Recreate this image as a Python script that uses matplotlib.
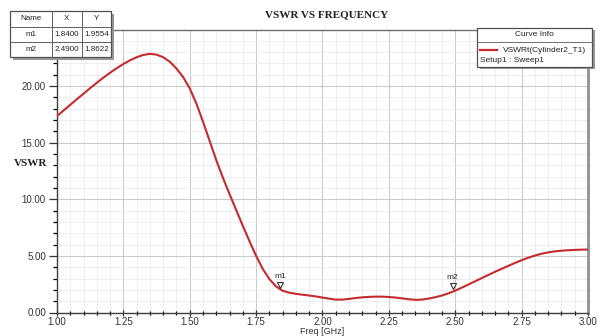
import matplotlib
matplotlib.use("Agg")
import matplotlib.pyplot as plt
from matplotlib.patches import Rectangle
from matplotlib.lines import Line2D
import numpy as np

# ---------------- data ----------------
freq_ghz = [1.000, 1.025, 1.050, 1.075, 1.100, 1.125, 1.150, 1.175, 1.200, 1.225,
            1.250, 1.275, 1.300, 1.325, 1.350, 1.375, 1.400, 1.425, 1.450, 1.475,
            1.500, 1.525, 1.550, 1.575, 1.600, 1.625, 1.650, 1.675, 1.700, 1.725,
            1.750, 1.775, 1.800, 1.825, 1.850, 1.875, 1.900, 1.925, 1.950, 1.975,
            2.000, 2.025, 2.050, 2.075, 2.100, 2.125, 2.150, 2.175, 2.200, 2.225,
            2.250, 2.275, 2.300, 2.325, 2.350, 2.375, 2.400, 2.425, 2.450, 2.475,
            2.500, 2.525, 2.550, 2.575, 2.600, 2.625, 2.650, 2.675, 2.700, 2.725,
            2.750, 2.775, 2.800, 2.825, 2.850, 2.875, 2.900, 2.925, 2.950, 2.975,
            3.000]
vswr = [17.35, 17.85, 18.35, 18.85, 19.33, 19.82, 20.3, 20.75, 21.18, 21.58,
        21.95, 22.28, 22.55, 22.75, 22.85, 22.78, 22.55, 22.15, 21.55, 20.8,
        19.8, 18.45, 16.85, 15.15, 13.45, 11.9, 10.45, 9.05, 7.65, 6.3,
        5.0, 3.85, 2.95, 2.3, 1.92, 1.75, 1.65, 1.57, 1.5, 1.42,
        1.32, 1.22, 1.14, 1.14, 1.2, 1.28, 1.34, 1.38, 1.4, 1.4,
        1.37, 1.32, 1.25, 1.17, 1.12, 1.14, 1.23, 1.35, 1.5, 1.7,
        1.93, 2.2, 2.48, 2.76, 3.04, 3.32, 3.6, 3.86, 4.12, 4.38,
        4.62, 4.84, 5.03, 5.19, 5.31, 5.4, 5.46, 5.5, 5.53, 5.55,
        5.56]
marker_names = ["m1", "m2"]
marker_x = [1.8400, 2.4900]
marker_y = [1.9554, 1.8622]
series_name = "VSWRt(Cylinder2_T1)"
setup_name = "Setup1 : Sweep1"
x_ticks = [1.00, 1.25, 1.50, 1.75, 2.00, 2.25, 2.50, 2.75, 3.00]
y_ticks = [0.00, 5.00, 10.00, 15.00, 20.00]

W, H = 597, 336
fig = plt.figure(figsize=(W / 100, H / 100), dpi=100)
fig.patch.set_facecolor("white")

def fx(px):
    return px / W

def fy(py):
    return 1 - py / H

ax_l, ax_r, ax_t, ax_b = 57, 588, 29.5, 312.5
ax = fig.add_axes([fx(ax_l), fy(ax_b), (ax_r - ax_l) / W, (ax_b - ax_t) / H])
ax.set_xlim(1.0, 3.0)
ax.set_ylim(0, 25)

ax.set_xticks(x_ticks)
ax.set_xticklabels([f"{v:.2f}" for v in x_ticks])
ax.set_xticks(np.arange(1.0, 3.0001, 0.05), minor=True)
ax.set_yticks(y_ticks)
ax.set_yticklabels([f"{v:.2f}" for v in y_ticks])
ax.set_yticks(np.arange(0, 25.001, 1.0), minor=True)

ax.grid(which="major", color="#cbcbcb", lw=0.8)
ax.grid(which="minor", color="#ebebeb", lw=0.6)
ax.set_axisbelow(True)

sans = ["Liberation Sans", "DejaVu Sans"]
serif = ["Liberation Serif", "DejaVu Serif"]
ax.tick_params(axis="both", which="major", labelsize=7, colors="#333333",
               labelcolor="#333333")
ax.tick_params(axis="y", which="major", direction="out", length=6, width=0.9, pad=2)
ax.tick_params(axis="y", which="minor", direction="out", length=3, width=0.9)
ax.tick_params(axis="x", which="major", direction="inout", length=5, width=0.9, pad=0.5)
ax.tick_params(axis="x", which="minor", direction="inout", length=3, width=0.9)
for lab in ax.get_xticklabels() + ax.get_yticklabels():
    lab.set_family(sans)

for s in ["left", "bottom"]:
    ax.spines[s].set_color("#404040")
    ax.spines[s].set_linewidth(1.0)
ax.spines["top"].set_color("#707070")
ax.spines["top"].set_linewidth(1.0)
ax.spines["right"].set_color("#909090")
ax.spines["right"].set_linewidth(2.0)

ax.plot(freq_ghz, vswr, color="#c62a2f", lw=1.5, solid_capstyle="round",
        solid_joinstyle="round", zorder=3)

# markers
for name, mx, my in zip(marker_names, marker_x, marker_y):
    ax.plot([mx], [my + 0.45], marker="v", ms=5, mfc="white", mec="#333333",
            mew=0.8, zorder=4, clip_on=False)
    ax.text(mx, my + 0.95, name, fontsize=6, family=sans, color="#222222",
            ha="center", va="bottom", zorder=4)

fig.text(fx(327), fy(15), "VSWR VS FREQUENCY", family=serif, weight="bold",
         fontsize=8, ha="center", va="center", color="#222222")
fig.text(fx(31), fy(164), "VSWR", family=serif, weight="bold",
         fontsize=8, ha="center", va="center", color="#222222")
fig.text(fx(322.5), fy(331), "Freq [GHz]", family=sans,
         fontsize=6.5, ha="center", va="center", color="#333333")

# ---------------- marker table ----------------
tl, tr = 10, 111
cols = [10, 52, 82, 111]
rows = [11, 27, 42, 57]
fig.patches.append(Rectangle((fx(tl + 3), fy(rows[-1] + 3)), (tr - tl) / W,
                             (rows[-1] - rows[0]) / H, transform=fig.transFigure,
                             facecolor="#9a9a9a", edgecolor="none", zorder=5))
fig.patches.append(Rectangle((fx(tl), fy(rows[-1])), (tr - tl) / W,
                             (rows[-1] - rows[0]) / H, transform=fig.transFigure,
                             facecolor="white", edgecolor="#505050", lw=0.9, zorder=6))
for c in cols[1:-1]:
    fig.lines.append(Line2D([fx(c), fx(c)], [fy(rows[0]), fy(rows[-1])],
                            transform=fig.transFigure, color="#606060", lw=0.7, zorder=7))
for r in rows[1:-1]:
    fig.lines.append(Line2D([fx(tl), fx(tr)], [fy(r), fy(r)],
                            transform=fig.transFigure, color="#606060", lw=0.7, zorder=7))
table_rows = [["Name", "X", "Y"]] + [[n, f"{x:.4f}", f"{y:.4f}"]
                                     for n, x, y in zip(marker_names, marker_x, marker_y)]
for ri, rowvals in enumerate(table_rows):
    yc = (rows[ri] + rows[ri + 1]) / 2
    for ci, val in enumerate(rowvals):
        xc = (cols[ci] + cols[ci + 1]) / 2
        fig.text(fx(xc), fy(yc), val, fontsize=5.8, family=sans, ha="center",
                 va="center", color="#222222", zorder=8)

# ---------------- curve info legend ----------------
ll, lr, lt, lb = 477, 592, 28.5, 66.5
fig.patches.append(Rectangle((fx(ll + 3), fy(lb + 2)), (lr - ll) / W,
                             (lb - lt) / H, transform=fig.transFigure,
                             facecolor="#9a9a9a", edgecolor="none", zorder=5))
fig.patches.append(Rectangle((fx(ll), fy(lb)), (lr - ll) / W, (lb - lt) / H,
                             transform=fig.transFigure, facecolor="white",
                             edgecolor="#505050", lw=0.9, zorder=6))
fig.lines.append(Line2D([fx(ll), fx(lr)], [fy(41.5), fy(41.5)],
                        transform=fig.transFigure, color="#707070", lw=0.7, zorder=7))
fig.text(fx((ll + lr) / 2), fy(35), "Curve Info", fontsize=6, family=sans,
         ha="center", va="center", color="#222222", zorder=8)
fig.lines.append(Line2D([fx(480), fx(497)], [fy(50), fy(50)],
                        transform=fig.transFigure, color="#c62a2f", lw=1.6, zorder=7))
fig.text(fx(503), fy(50), series_name, fontsize=6, family=sans,
         ha="left", va="center", color="#222222", zorder=8)
fig.text(fx(480), fy(60), setup_name, fontsize=6, family=sans,
         ha="left", va="center", color="#222222", zorder=8)

fig.savefig("out.png", dpi=100)
